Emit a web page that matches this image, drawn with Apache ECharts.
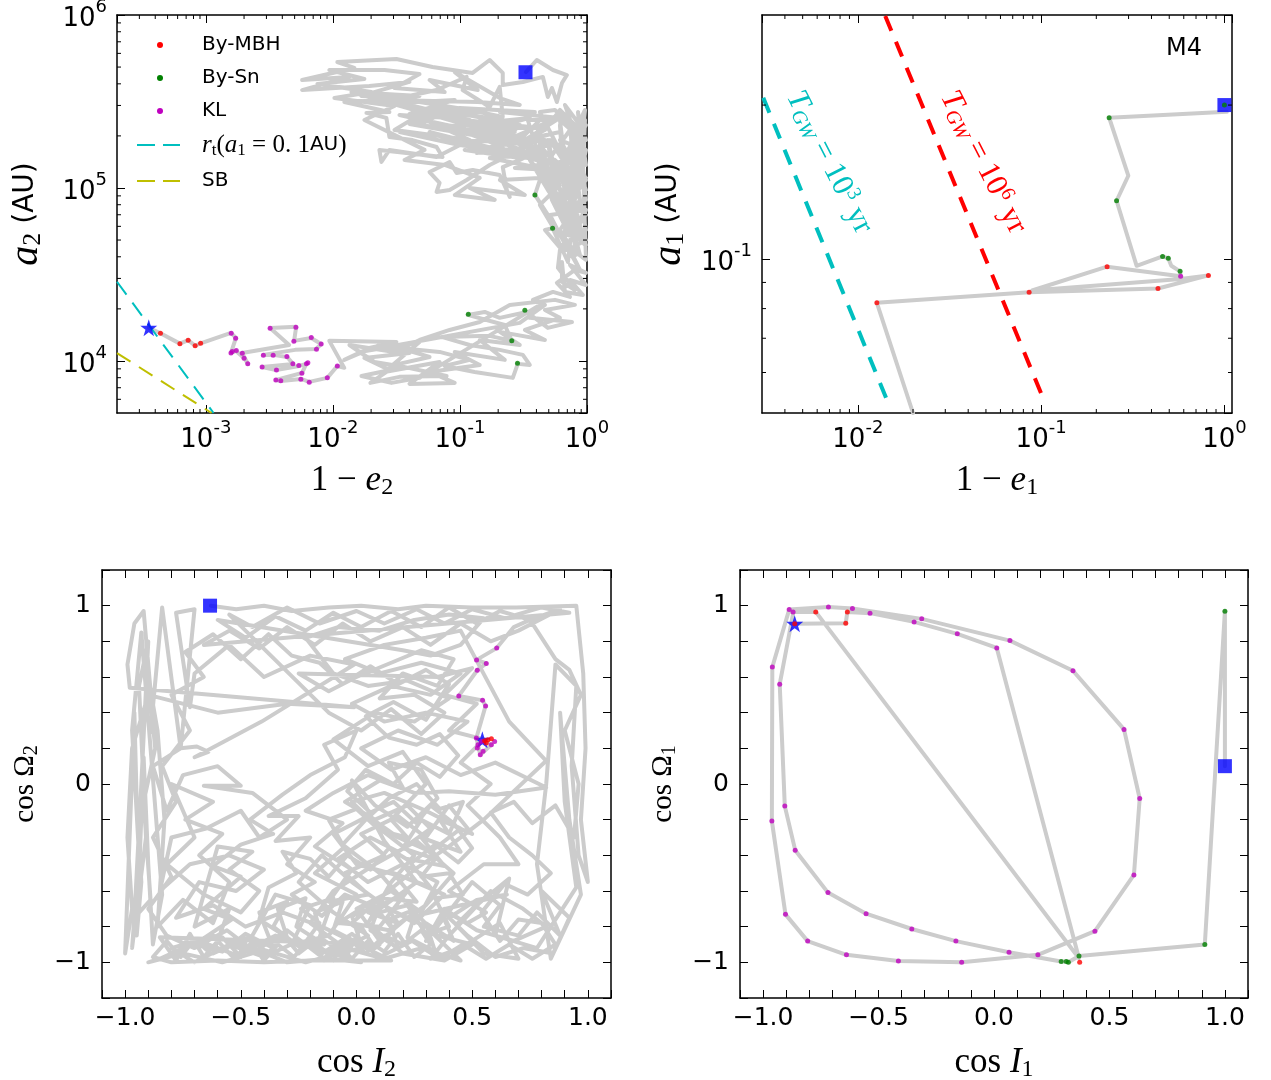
<!DOCTYPE html>
<html>
<head>
<meta charset="utf-8">
<script src="https://cdn.jsdelivr.net/npm/echarts@6/dist/echarts.min.js"></script>
<style>
html, body { margin: 0; padding: 0; background: #ffffff; }
#chart { width: 1271px; height: 1080px; }
</style>
</head>
<body>
<div id="chart"></div>
<script>
// ---------- outer orbit: [log10(1 - e2), log10(a2 / AU)] ----------
const outerTrackLog = [
  [-0.481,5.670],[-0.395,5.740],[-0.268,5.682],[-0.158,5.653],[-0.197,5.607],[-0.237,5.497],[-0.276,5.578],[-0.308,5.526],[-0.347,5.642],[-0.505,5.613],
  [-0.663,5.595],[-0.663,5.665],[-0.766,5.740],[-0.900,5.665],[-1.216,5.699],[-1.500,5.746],[-1.965,5.728],[-1.831,5.694],[-2.242,5.624],[-1.871,5.642],
  [-2.242,5.566],[-1.713,5.590],[-1.397,5.613],[-1.776,5.532],[-1.476,5.520],[-1.184,5.566],[-1.058,5.607],[-0.947,5.642],[-0.979,5.566],[-0.766,5.468],
  [-0.687,5.584],[-0.663,5.410],[-0.923,5.451],[-1.318,5.497],[-1.594,5.509],[-1.910,5.497],[-1.555,5.439],[-1.736,5.434],[-1.579,5.405],[-1.555,5.295],
  [-1.373,5.277],[-1.184,5.237],[-1.137,5.179],[-1.634,5.220],[-1.618,5.150],[-1.555,5.220],[-1.184,5.179],[-0.923,5.277],[-1.239,5.382],[-1.476,5.422],
  [-1.081,5.405],[-0.687,5.347],[-0.845,5.306],[-0.505,5.295],[-0.347,5.410],[-0.237,5.405],[-0.450,5.335],[-0.868,5.202],[-0.663,5.237],[-1.002,5.335],
  [-1.318,5.364],[-1.121,5.439],[-0.766,5.405],[-0.529,5.364],[-0.647,5.277],[-0.371,5.220],[-0.529,5.162],[-0.663,5.121],[-0.631,4.988],[-0.608,4.948],
  [-0.687,5.075],[-0.900,5.104],[-1.026,5.087],[-1.081,5.150],[-1.239,5.092],[-1.160,5.029],[-1.184,4.977],[-1.081,4.988],[-0.947,5.046],[-0.766,5.133],
  [-0.529,5.220],
  [-1.002,5.393],[-1.397,5.462],[-1.160,5.347],[-0.647,5.306],[-0.845,5.405],[-0.450,5.249],[-0.923,5.335],[-1.358,5.405],[-1.515,5.335],[-1.042,5.289],
  [-0.568,5.191],[-0.331,5.150],[-0.529,5.277],
  [-1.854,5.555],[-1.318,5.532],[-1.633,5.485],[-1.041,5.509],[-1.397,5.428],[-0.844,5.439],[-1.239,5.462],[-0.647,5.381],[-1.081,5.358],[-0.450,5.405],
  [-0.923,5.312],[-0.331,5.277],[-0.726,5.243],[-0.213,5.324],[-0.529,5.266],[-1.160,5.277],[-0.805,5.220],[-1.475,5.324],[-1.002,5.248],[-0.450,5.191],
  [-0.765,5.173],[-0.292,5.104],[-0.568,5.116],[-0.095,5.162],[-0.371,5.058],[-0.686,5.046],[-0.489,4.959],[-0.923,5.000],[-0.726,4.931],[-1.041,4.959],
  [-0.844,5.058],[-1.120,5.133],[-1.436,5.162],[-1.278,5.220],[-1.752,5.393],[-1.515,5.474],[-1.988,5.520],[-1.696,5.555],[-2.122,5.601],[-1.752,5.630],
  [-2.028,5.682],[-1.594,5.682],[-1.318,5.659],[-1.515,5.578],[-1.120,5.555],[-1.239,5.624],[-0.860,5.566],[-1.041,5.670],[-0.686,5.520],[-0.529,5.480],
  [-0.860,5.497],
  [-1.554,5.509],[-0.923,5.393],[-1.318,5.439],[-0.568,5.324],[-1.120,5.405],[-0.371,5.347],[-0.844,5.347],[-0.252,5.248],[-0.686,5.220],[-1.239,5.324],
  [-0.529,5.173],[-0.963,5.220],[-0.331,5.162],[-0.765,5.289],[-1.397,5.370],[-1.002,5.462],[-0.410,5.439],[-0.686,5.439],[-0.213,5.405],[-0.489,5.277],
  [-0.331,5.335],[-0.213,5.451],[-0.095,5.364],[-0.016,5.220],[-0.213,5.277],[-0.055,5.075],[-0.008,4.988],[-0.253,5.162],[-0.134,4.931],[-0.008,4.844],
  [-0.292,5.046],[-0.174,4.786],[-0.016,4.671],[-0.095,4.902],[-0.213,5.104],[-0.371,5.249],[-0.276,4.931],[-0.118,4.699],[-0.008,4.757],[-0.071,4.988],
  [-0.150,5.220],[-0.016,5.393],[-0.032,5.133],[-0.008,4.584],[-0.166,4.671],[-0.308,4.844],[-0.410,4.960],[-0.331,5.133],[-0.134,5.335],[-0.055,4.931],
  [-0.213,4.757],[-0.087,4.613],
  [-0.213,5.393],[-0.039,5.277],[-0.174,5.017],[-0.008,4.671],[-0.134,4.844],[-0.253,5.075],[-0.095,5.220],[-0.008,5.046],[-0.189,4.873],[-0.055,4.613],
  [-0.118,4.786],[-0.308,4.988],[-0.450,5.162],[-0.229,4.960],[-0.087,4.728],[-0.024,4.873],[-0.166,5.133],[-0.292,5.277],[-0.110,5.075],[-0.008,5.220],
  [-0.197,4.642],[-0.331,4.757],[-0.271,4.767],[-0.150,4.572],
  [-0.016,5.451],[-0.118,5.289],[-0.008,5.364],[-0.166,5.162],[-0.055,5.220],[-0.276,5.104],[-0.103,4.960],[-0.008,5.058],[-0.213,4.902],[-0.071,4.769],
  [-0.008,4.873],[-0.292,4.844],[-0.150,4.642],[-0.008,4.699],[-0.245,4.746],[-0.371,4.902],[-0.213,5.017],[-0.466,5.220],[-0.323,5.393],
  [-0.466,5.393],[-0.331,5.075],[-0.387,5.335],[-0.245,4.931],[-0.308,5.277],[-0.166,4.844],[-0.213,5.364],[-0.087,4.815],[-0.134,5.393],[-0.008,4.931],
  [-0.071,5.439],[-0.008,5.133],[-0.174,5.480],[-0.039,5.347],[-0.008,5.277],[-0.252,5.451],[-0.371,5.439],[-0.095,5.046],[-0.189,4.699],[-0.055,4.526],
  [-0.134,4.642],[-0.213,4.642],[-0.229,4.538],[-0.095,4.410],[-0.197,4.457],[-0.197,4.572],[-0.174,4.399],[-0.032,4.381],[-0.134,4.468],[-0.008,4.439],
  [-0.134,4.555],[-0.008,4.509],[-0.095,4.526],[-0.237,4.451],[-0.134,4.370],[-0.268,4.399],[-0.426,4.353],[-0.331,4.324],[-0.529,4.220],
  [-1.791,4.052],[-1.318,4.110],[-1.594,3.936],[-1.160,3.994],[-1.397,3.867],[-1.041,3.873],[-1.239,3.936],[-0.844,3.977],[-1.041,4.052],[-0.647,4.006],
  [-0.844,4.121],[-0.529,4.092],[-0.686,4.168],[-0.331,4.121],[-0.489,4.179],[-0.213,4.249],[-0.331,4.295],[-0.095,4.324],[-0.252,4.353],[-0.608,4.324],
  [-0.844,4.225],[-1.081,4.179],[-1.318,4.121],[-1.515,4.052],[-1.870,4.092],[-1.673,3.994],[-1.436,3.965],[-1.775,3.913],[-1.539,3.873],[-1.318,3.902],
  [-0.371,4.324],[-0.450,4.249],[-0.118,4.225],[-0.308,4.191],[-0.474,4.283],[-0.687,4.249],[-0.805,4.283],[-0.939,4.266],[-0.647,4.208],[-0.592,4.116],
  [-0.766,4.145],[-1.144,4.139],[-0.923,4.092],[-0.687,4.064],[-0.505,4.035],[-0.450,3.977],[-0.545,3.983],[-0.584,3.902],[-0.884,3.936],[-1.121,3.971],
  [-0.923,4.006],[-1.160,4.052],[-1.476,4.075],[-1.239,4.023],[-1.515,3.977],[-1.105,3.913],[-1.476,3.908],[-1.705,3.873],[-1.555,3.948],[-1.752,4.017],
  [-1.397,4.046],[-1.634,4.092],[-1.910,4.006],[-1.713,4.075],[-1.500,4.110],[-2.028,4.116],[-1.910,3.960],
  [-1.965,3.971],[-2.044,3.902],[-2.186,3.879],[-2.250,3.896],[-2.407,3.884],[-2.447,3.890],[-2.242,3.931],[-2.210,3.983],[-2.265,3.971],[-2.447,3.948],
  [-2.557,3.965],[-2.313,3.983],[-2.360,4.023],[-2.470,4.035],[-2.549,4.035],[-2.297,4.064],[-2.131,4.069],[-2.092,4.098],[-2.171,4.133],[-2.305,4.116],
  [-2.289,4.197],[-2.494,4.191],[-2.344,4.092],[-2.715,4.046],[-2.668,3.983],[-2.699,4.017],[-2.763,4.058],[-2.802,4.046],[-2.763,4.133],[-2.802,4.162],
  [-3.041,4.102],[-3.084,4.088],[-3.139,4.120],[-3.204,4.100],[-3.357,4.160],[-3.449,4.192]
];
const outerMBHLog = [[-3.357,4.160],[-3.204,4.100],[-3.139,4.120],[-3.084,4.088],[-3.041,4.102]];
const outerSnLog = [[-0.410,4.960],[-0.271,4.767],[-0.934,4.270],[-0.489,4.293],[-0.592,4.116],[-0.547,3.987]];
const outerKLLog = [
  [-2.800,4.160],[-2.765,4.131],[-2.792,4.054],[-2.802,4.046],[-2.760,4.060],[-2.713,4.045],[-2.699,4.016],[-2.670,3.984],[-2.547,4.033],[-2.557,3.965],
  [-2.494,4.189],[-2.470,4.033],[-2.444,3.948],[-2.449,3.890],[-2.410,3.886],[-2.362,4.025],[-2.307,4.114],[-2.315,3.983],[-2.291,4.195],[-2.268,3.973],
  [-2.244,3.929],[-2.208,3.983],[-2.197,3.990],[-2.252,3.894],[-2.186,3.877],[-2.170,4.135],[-2.129,4.068],[-2.092,4.098],[-2.044,3.903],[-1.965,3.971]
];
const outerStartLog = [[-0.484,5.669]];
const outerEndLog = [[-3.449,4.192]];
// tidal radius for a1 = 0.1 AU and stability boundary: [1 - e2, a2]
const tidalLine = [[2.0e-4,28700],[1.15e-3,5000]];
const sbLine = [[2.0e-4,11100],[1.11e-3,5000]];

// ---------- inner orbit: [1 - e1, a1 (AU)] ----------
const innerTrack = [
  [1.03,0.194],[0.235,0.189],[0.299,0.1455],[0.258,0.130],[0.332,0.097],[0.460,0.1012],[0.494,0.1003],[0.513,0.097],[0.573,0.0946],[0.577,0.0925],
  [0.229,0.0966],[0.0893,0.0868],[0.577,0.0914],[0.818,0.0929],[0.434,0.0876],[0.086,0.0861],[0.0127,0.0821],[0.020,0.050]
];
const innerMBH = [[0.818,0.0929],[0.434,0.0876],[0.086,0.0861],[0.229,0.0966],[0.0127,0.0821]];
const innerSn = [[1.0,0.2],[0.235,0.189],[0.258,0.130],[0.460,0.1012],[0.494,0.1003],[0.573,0.0946]];
const innerKL = [[0.577,0.0925]];
const innerStart = [[1.0,0.2]];
// gravitational-wave merger time contours
const tgw3Line = [[0.00305,0.2066],[0.01471,0.0521]];
const tgw6Line = [[0.01411,0.2988],[0.1056,0.0521]];
const tgw3LabelAt = [[0.00698,0.1546]];
const tgw6LabelAt = [[0.0483,0.1546]];

// ---------- orientation of the outer orbit: [cos I2, cos Omega2] ----------
const outerAngles = [
  [-0.63,1.00],[-0.52,0.98],[-0.40,1.00],[-0.28,0.97],[-0.12,0.99],[0.02,1.00],[0.18,0.98],[0.30,1.00],[0.50,0.99],[0.69,0.99],[0.95,1.00],
  [0.98,0.62],[0.99,0.20],[0.97,-0.20],[1.00,-0.55],[0.96,-0.40],[0.93,0.10],[0.95,0.55],[0.86,0.67],[0.82,0.00],[0.78,-0.45],[0.84,-0.98],[0.97,-0.62],[0.92,-0.20],[0.88,0.40],[0.90,-0.10],[0.95,-0.58],
  [0.78,-0.92],[0.60,-0.85],[0.66,-0.53],[0.50,-0.70],[0.43,-0.79],[0.55,-0.95],[0.70,-0.98],[0.62,-0.78],[0.45,-0.92],[0.32,-0.98],[0.40,-0.85],[0.58,-0.60],[0.72,-0.70],[0.82,-0.80],[0.68,-0.88],[0.52,-0.82],[0.38,-0.70],[0.30,-0.88],
  [0.50,-0.55],[0.62,-0.68],[0.55,-0.80],[0.70,-0.85],[0.78,-0.72],[0.88,-0.85],[0.80,-0.60],[0.92,-0.75],[0.85,-0.95],[0.72,-0.92],[0.60,-0.97],[0.48,-0.85],[0.40,-0.75],[0.52,-0.65],[0.65,-0.62],
  [0.22,-0.75],[0.10,-0.88],[0.00,-0.70],[0.15,-0.60],[0.28,-0.72],[0.35,-0.55],[0.20,-0.45],[0.05,-0.55],[-0.08,-0.42],[0.06,-0.30],[0.18,-0.38],[0.32,-0.25],[0.22,-0.12],[0.08,-0.20],[-0.05,-0.10],[0.10,0.02],[0.25,-0.05],[0.40,-0.04],[0.60,-0.06],[0.82,-0.02],
  [0.60,0.12],[0.45,0.05],[0.30,0.15],[0.15,0.08],[0.02,0.20],[0.18,0.30],[0.35,0.22],[0.48,0.35],[0.30,0.40],[0.12,0.35],[-0.02,0.45],[0.15,0.55],[0.32,0.50],[0.45,0.62],[0.28,0.68],[0.10,0.62],[-0.05,0.70],[0.12,0.78],[0.30,0.82],[0.45,0.86],[0.66,0.35],[0.82,0.13],
  [0.55,-0.20],[0.40,-0.35],[0.25,-0.48],[0.12,-0.62],[-0.02,-0.78],[0.14,-0.82],[0.30,-0.68],[0.42,-0.50],[0.26,-0.32],[0.08,-0.45],[-0.10,-0.60],[-0.20,-0.78],[-0.05,-0.92],[0.12,-0.98],[0.28,-0.92],[0.45,-0.99],[0.30,-0.80],[0.14,-0.70],[-0.02,-0.55],[-0.15,-0.40],[-0.25,-0.55],[-0.10,-0.72],[0.05,-0.85],
  [-0.10,-0.95],[-0.25,-0.88],[-0.40,-0.97],[-0.55,-0.90],[-0.70,-1.00],[-0.80,-0.92],[-0.62,-0.85],[-0.45,-0.92],[-0.30,-1.00],[-0.12,-0.98],[0.02,-1.00],[-0.18,-0.92],[-0.35,-0.85],[-0.52,-0.96],[-0.68,-0.88],[-0.85,-0.98],[-0.90,-1.00],[-0.75,-0.95],[-0.58,-1.00],[-0.40,-0.93],[-0.22,-1.00],[-0.05,-0.94],[0.10,-0.90],
  [-0.85,-0.86],[-0.78,-0.99],[-0.72,-0.84],[-0.66,-0.97],[-0.60,-0.88],[-0.52,-0.99],[-0.47,-0.86],[-0.40,-0.99],[-0.34,-0.90],[-0.27,-0.97],[-0.20,-0.86],[-0.14,-0.99],[-0.08,-0.90],[-0.02,-0.98],[0.05,-0.88],[0.12,-0.94],[0.18,-0.84],[0.25,-0.97],[0.32,-0.90],[0.28,-0.82],[0.20,-0.90],[0.12,-0.85],
  [0.04,-0.95],[-0.04,-0.86],[-0.10,-0.99],[-0.18,-0.88],[-0.25,-0.95],[-0.32,-0.84],[-0.38,-0.95],[-0.45,-0.88],[-0.50,-0.97],[-0.58,-0.86],[-0.64,-0.94],[-0.70,-0.87],[-0.76,-0.97],[-0.82,-0.88],[-0.88,-0.97],[-0.80,-1.00],[-0.60,-0.99],[-0.40,-1.00],[-0.20,-0.99],[0.00,-0.99],[0.15,-0.99],
  [-0.15,-0.80],[-0.32,-0.72],[-0.48,-0.80],[-0.62,-0.68],[-0.78,-0.75],[-0.68,-0.55],[-0.52,-0.60],[-0.40,-0.48],[-0.55,-0.40],[-0.72,-0.45],[-0.85,-0.60],[-0.80,-0.30],[-0.65,-0.25],[-0.50,-0.15],[-0.42,-0.30],[-0.30,-0.20],[-0.45,-0.05],[-0.66,-0.01],[-0.50,-0.01],
  [-0.60,0.10],[-0.75,0.05],[-0.82,-0.15],[-0.88,0.10],[-0.76,0.20],[-0.69,0.21],[-0.64,0.18],[-0.70,0.15],[-0.41,0.35],[-0.01,0.67],
  [-0.20,0.72],[-0.40,0.60],[-0.55,0.78],[-0.70,0.62],[-0.72,0.43],[-0.78,0.96],[-0.70,0.98],[-0.76,0.20],[-0.84,0.99],[-0.89,0.29],[-0.88,0.37],[-0.92,0.97],[-0.96,0.90],
  [-0.99,0.67],[-0.98,0.54],[-0.01,0.43],[-0.30,0.45],[-0.60,0.40],[-0.90,0.50],[-0.97,0.20],[-0.99,-0.30],[-0.97,-0.70],[-1.00,-0.95],[-0.96,0.40],[-0.95,-0.10],[-0.93,-0.55],[-0.95,-0.85],[-0.92,0.15],[-0.90,-0.45],[-0.88,-0.90],[-0.84,-0.62],
  [-0.93,0.85],[-0.97,0.30],[-0.94,-0.40],[-0.97,-0.92],[-0.91,-0.30],[-0.94,0.55],[-0.90,0.80],[-0.93,0.00],[-0.96,-0.75],[-0.89,-0.65],[-0.92,-0.10],[-0.87,0.20],[-0.90,0.60],[-0.86,0.30],[-0.83,-0.20],[-0.86,-0.80],
  [-0.75,-0.65],[-0.62,-0.78],[-0.55,-0.55],[-0.68,-0.40],[-0.58,-0.28],[-0.74,-0.20],[-0.62,-0.10],[-0.80,0.00],[-0.70,-0.30],[-0.82,-0.45],[-0.66,-0.62],[-0.50,-0.72],[-0.42,-0.60],[-0.55,-0.48],[-0.45,-0.38],[-0.60,-0.35],
  [-0.70,-0.80],[-0.55,-0.70],[-0.62,-0.95],[-0.45,-0.85],[-0.35,-0.62],[-0.20,-0.68],[-0.28,-0.90],[-0.12,-0.85],[0.00,-0.62],[-0.18,-0.50],[-0.05,-0.35],[0.10,-0.50],[0.20,-0.65],[0.35,-0.85],[0.50,-0.90],[0.38,-0.99],[0.20,-0.95],[0.05,-0.78],
  [0.15,-0.55],[0.25,-0.40],[0.10,-0.25],[-0.02,-0.10],[0.12,-0.05],[0.30,-0.15],[0.45,-0.25],[0.32,-0.38],[0.18,-0.30],[0.05,-0.18],[-0.10,-0.28],[0.00,-0.45],[0.20,-0.52],[0.38,-0.62],[0.25,-0.78],[0.08,-0.65],[-0.08,-0.78],[0.10,-0.80],[0.22,-0.60],
  [0.05,-0.72],[0.18,-0.78],[0.10,-0.64],[0.26,-0.66],[0.16,-0.50],[0.32,-0.58],[0.22,-0.42],[0.38,-0.46],[0.28,-0.30],[0.45,-0.38],[0.36,-0.20],[0.50,-0.28],[0.40,-0.12],[0.30,-0.30],[0.18,-0.18],[0.02,-0.28],[0.12,-0.40],[-0.05,-0.50],[0.05,-0.62],[-0.12,-0.66],
  [-0.02,-0.48],[-0.18,-0.35],[-0.06,-0.22],[-0.22,-0.15],[-0.10,-0.05],[0.05,0.05],[0.20,-0.02],[0.14,0.12],[0.28,0.08],[0.35,-0.08],[0.22,-0.24],[0.08,-0.12],[-0.02,0.02],[0.12,-0.32],[0.26,-0.55],[0.10,-0.70],[-0.05,-0.62],[-0.15,-0.74],[-0.28,-0.62],[-0.18,-0.55],
  [-0.30,-0.45],[-0.20,-0.30],[-0.35,-0.32],[-0.25,-0.18],[-0.38,-0.18],[-0.22,-0.08],[-0.08,0.08],[-0.14,0.22],[0.00,0.30],[-0.05,0.15],
  [-0.20,0.05],[-0.32,-0.06],[-0.46,-0.20],[-0.36,-0.28],[-0.50,-0.34],[-0.62,-0.46],[-0.50,-0.52],[-0.66,-0.70],[-0.54,-0.76],[-0.70,-0.90],[-0.58,-0.94],[-0.48,-0.84],[-0.36,-0.92],[-0.42,-0.72],[-0.30,-0.66],[-0.36,-0.80],
  [-0.24,-0.92],[-0.16,-0.78],[-0.24,-0.70],[-0.10,-0.64],[-0.16,-0.86],[-0.04,-0.96],[0.02,-0.80],[0.08,-0.92],[0.16,-0.82],[0.10,-0.72],[0.22,-0.68],[0.30,-0.84],[0.40,-0.80],[0.34,-0.64],[0.46,-0.62],[0.40,-0.50],
  [0.28,-0.52],[0.34,-0.42],[0.20,-0.36],[0.28,-0.20],[0.40,-0.28],[0.46,-0.10],[0.36,-0.14],[0.26,0.00],[0.14,-0.08],[0.04,-0.20],[-0.06,-0.34],[-0.12,-0.20],[0.00,-0.14],[0.10,-0.26],[0.22,-0.30],
  [0.15,-0.20],[0.30,0.00],[0.20,0.18],[0.05,0.10],[-0.10,0.25],[0.08,0.40],[0.25,0.35],[0.40,0.48],[0.22,0.58],[0.05,0.55],[-0.10,0.62],[-0.22,0.82],[-0.08,0.88],[0.10,0.86],[0.25,0.92],[0.40,0.95],[0.55,0.93],[0.45,0.78],[0.32,0.72],[0.20,0.75],
  [-0.60,0.92],[-0.48,0.82],[-0.35,0.94],[-0.22,0.86],[-0.10,0.96],[0.02,0.88],[0.15,0.97],[0.28,0.88],[0.40,0.99],[0.52,0.90],[0.62,0.97],[0.75,0.92],[0.88,0.98],
  [0.70,0.86],[0.58,0.80],[0.45,0.90],[0.32,0.78],[0.20,0.88],[0.06,0.80],[-0.06,0.90],[-0.18,0.78],[-0.30,0.88],[-0.42,0.76],[-0.55,0.86],[-0.66,0.78],
  [0.92,0.96],[0.80,0.99],[0.64,0.93],[0.50,0.98],[0.38,0.90],[0.26,0.98],[0.12,0.90],[0.00,0.97],[-0.16,0.90],[-0.30,0.99],[-0.45,0.88],[-0.55,0.95],
  [-0.12,0.40],[0.02,0.30],[0.15,0.42],[0.28,0.28],[0.38,0.40],[0.25,0.50],[0.10,0.48],[0.20,0.62],[0.35,0.55],[0.42,0.70],[0.28,0.75],[0.15,0.68],[0.00,0.60],[-0.12,0.52],[-0.25,0.62],
  [0.35,0.60],[0.50,0.65],[0.38,0.50],[0.52,0.45],[0.40,0.30],[0.55,0.25],[0.45,0.12],[0.58,0.00],[0.48,-0.12],[0.62,-0.30],[0.70,-0.45],[0.55,-0.45],[0.40,-0.60],[0.56,-0.72],
  [0.48,-0.78],[0.36,-0.70],[0.42,-0.88],[0.30,-0.78],[0.34,-0.94],[0.22,-0.86],[0.26,-0.70],[0.14,-0.76],[0.18,-0.92],[0.06,-0.82],[0.10,-0.68],[-0.02,-0.74],[0.02,-0.90],[-0.10,-0.82],[-0.06,-0.66],[-0.18,-0.72],[-0.14,-0.90],[-0.26,-0.80],[-0.22,-0.64],[-0.34,-0.70],
  [-0.30,-0.86],[-0.42,-0.76],[-0.38,-0.58],[-0.26,-0.50],[-0.32,-0.38],[-0.20,-0.42],[-0.12,-0.52],[-0.04,-0.40],[0.06,-0.48],[0.14,-0.36],[0.24,-0.44],[0.34,-0.34],[0.44,-0.44],[0.50,-0.36],[0.42,-0.22],[0.32,-0.12],[0.26,-0.22],[0.16,-0.10],[0.06,-0.16],[-0.04,-0.04],
  [0.04,0.08],[0.16,0.00],[0.26,0.12],[0.36,0.04],[0.44,0.16],[0.36,0.28],[0.26,0.22],[0.14,0.26],[0.04,0.38],[0.16,0.46],[0.30,0.36],[0.40,0.56],[0.30,0.64],[0.18,0.56],[0.06,0.66],[-0.06,0.56],[-0.16,0.68],[-0.28,0.72],[-0.38,0.84],[-0.50,0.70],
  [-0.62,0.84],[-0.74,0.74],[-0.66,0.60],[-0.80,0.50],[-0.72,0.30],[-0.84,0.10],[-0.78,-0.10],[-0.88,-0.30],[-0.80,-0.52],[-0.90,-0.70],[-0.82,-0.85],[-0.70,-0.92],[-0.56,-0.82],[-0.44,-0.94],[-0.30,-0.82],[-0.16,-0.96],[-0.02,-0.84],[0.10,-0.97],[0.24,-0.88],[0.36,-0.98],
  [0.46,-0.90],[0.56,-0.98],[0.66,-0.90],[0.76,-0.98],[0.86,-0.90],[0.80,-0.78],[0.70,-0.76],[0.62,-0.88],[0.54,-0.72],[0.64,-0.56],[0.74,-0.62],[0.84,-0.50],[0.76,-0.40],[0.66,-0.30],[0.58,-0.16],[0.68,-0.10],[0.76,-0.22],[0.86,-0.12],[0.94,-0.30],[0.96,0.00],
  [0.90,0.30],[0.97,0.50],[0.92,0.64],[0.86,0.70],[0.75,0.92],
  [0.68,0.88],[0.606,0.762],[0.519,0.696],[0.561,0.676],[0.522,0.638],[0.442,0.494],[0.545,0.469],[0.558,0.438],[0.518,0.258],[0.535,0.164],[0.583,0.220],[0.544,0.248]
];
const outerAngMBH = [[0.554,0.243],[0.568,0.248],[0.583,0.254],[0.561,0.230]];
const outerAngKL = [
  [0.606,0.762],[0.519,0.696],[0.561,0.676],[0.522,0.638],[0.442,0.494],[0.545,0.469],[0.558,0.438],[0.518,0.258],
  [0.525,0.220],[0.522,0.202],[0.535,0.164],[0.547,0.183],[0.583,0.220],[0.597,0.239],[0.540,0.239]
];
const outerAngStart = [[-0.633,1.0]];
const outerAngEnd = [[0.544,0.248]];

// ---------- orientation of the inner orbit: [cos I1, cos Omega1] ----------
const innerAngles = [
  [1.00,0.10],[1.00,0.969],[0.913,-0.900],[0.368,-0.965],[0.322,-1.000],[0.313,-0.995],[0.291,-0.995],
  [0.065,-0.943],[-0.165,-0.881],[-0.356,-0.813],[-0.554,-0.727],[-0.719,-0.609],[-0.861,-0.371],[-0.906,-0.124],[-0.928,0.560],[-0.870,0.955],
  [-0.887,0.978],[-0.960,0.656],[-0.962,-0.208],[-0.903,-0.731],[-0.807,-0.881],[-0.639,-0.958],[-0.414,-0.993],[-0.140,-1.000],[0.190,-0.958],
  [0.437,-0.825],[0.606,-0.510],[0.631,-0.081],[0.563,0.306],[0.342,0.635],[0.069,0.804],[-0.313,0.926],[-0.613,0.984],[-0.717,0.993],[-0.887,0.978],
  [-0.870,0.965],[-0.772,0.965],[0.368,-0.977],[0.012,0.763],[-0.159,0.842],[-0.346,0.909],[-0.537,0.958],[-0.635,0.965],[-0.642,0.902],[-0.863,0.898]
];
const innerAngMBH = [[-0.772,0.965],[-0.635,0.965],[-0.642,0.902],[-0.863,0.898],[0.371,-1.000]];
const innerAngSn = [[1.00,0.969],[0.913,-0.900],[0.368,-0.965],[0.322,-1.000],[0.313,-0.995],[0.291,-0.995]];
const innerAngKL = [
  [-0.887,0.978],[-0.870,0.965],[-0.717,0.993],[-0.613,0.984],[-0.537,0.958],[-0.346,0.909],[-0.313,0.926],[-0.159,0.842],[0.012,0.763],[0.069,0.804],
  [0.342,0.635],[0.563,0.306],[0.631,-0.081],[0.606,-0.510],[0.437,-0.825],[0.190,-0.958],[0.065,-0.943],[-0.140,-1.000],[-0.165,-0.881],[-0.356,-0.813],
  [-0.414,-0.993],[-0.554,-0.727],[-0.639,-0.958],[-0.719,-0.609],[-0.807,-0.881],[-0.861,-0.371],[-0.903,-0.731],[-0.906,-0.124],[-0.962,-0.208],[-0.928,0.560],
  [-0.960,0.656]
];
const innerAngStart = [[1.0,0.1]];
const innerAngEnd = [[-0.863,0.898]];

// ---------- tick labels and legend entries ----------
const linTickLabelsX = ['−1.0','−0.5','0.0','0.5','1.0'];
const linTickLabelsY = ['−1','0','1'];
const legendDots = ['By-MBH','By-Sn','KL'];

// ---------- styling ----------
const SANS = 'DejaVu Sans';
const SERIF = 'Liberation Serif';
const C = { mbh:'#ff0000', sn:'#008000', kl:'#bf00bf', cyan:'#00bfbf', yellow:'#bfbf00', blue:'#0000ff', track:'#cccccc' };
const STAR = 'path://M12,0.5 L14.7,8.6 L23.3,8.6 L16.4,13.7 L19,21.8 L12,16.8 L5,21.8 L7.6,13.7 L0.7,8.6 L9.3,8.6 Z';
const fromLog = arr => arr.map(p => [Math.pow(10, p[0]), Math.pow(10, p[1])]);

const frame = { show: true, onZero: false, lineStyle: { color: '#000', width: 1.5 } };
const tick = { show: true, inside: true, length: 8, lineStyle: { color: '#000', width: 1 } };

const logRich = {
  b: { fontFamily: SANS, fontSize: 26, lineHeight: 34, verticalAlign: 'bottom', color: '#000' },
  s: { fontFamily: SANS, fontSize: 18, lineHeight: 12, verticalAlign: 'top', color: '#000' }
};
const logFmt = v => '{b|10}{s|' + Math.round(Math.log10(v)) + '}';

// axis titles
const richX = {
  r: { fontFamily: SERIF, fontSize: 35, lineHeight: 38, color: '#000' },
  i: { fontFamily: SERIF, fontStyle: 'italic', fontSize: 35, lineHeight: 38, color: '#000' },
  sub: { fontFamily: SERIF, fontSize: 24, lineHeight: 14, verticalAlign: 'bottom', color: '#000' }
};
const richA = {
  i: { fontFamily: SERIF, fontStyle: 'italic', fontSize: 40, lineHeight: 40, color: '#000' },
  sub: { fontFamily: SERIF, fontSize: 26, lineHeight: 16, verticalAlign: 'bottom', color: '#000' },
  s: { fontFamily: SANS, fontSize: 28, lineHeight: 40, color: '#000' }
};
const richCos = {
  r: { fontFamily: SERIF, fontSize: 29, lineHeight: 34, color: '#000' },
  sub: { fontFamily: SERIF, fontSize: 20, lineHeight: 14, verticalAlign: 'bottom', color: '#000' }
};

function logAxisPair(grid, min, max, name, gap, isX, hideMax, rich) {
  const main = {
    type: 'log', logBase: 10, gridIndex: grid, min, max,
    position: isX ? 'bottom' : 'left',
    axisLine: frame, axisTick: tick, splitLine: { show: false }, minorTick: { show: false },
    axisLabel: { formatter: logFmt, rich: logRich, margin: isX ? 6 : 10, showMinLabel: false, showMaxLabel: !hideMax },
    name, nameLocation: 'middle', nameGap: gap, nameTextStyle: { rich }
  };
  const mirror = {
    type: 'log', logBase: 10, gridIndex: grid, min, max,
    position: isX ? 'top' : 'right',
    axisLine: frame, axisTick: tick, splitLine: { show: false }, axisLabel: { show: false }
  };
  return [main, mirror];
}

function linAxisPair(grid, isX, name, gap, rich) {
  const min = isX ? -1.1 : -1.2, max = isX ? 1.1 : 1.2, interval = isX ? 0.1 : 0.2;
  const fmt = v => {
    if (isX) {
      const k = Math.round(v * 2);
      if (Math.abs(v * 2 - k) > 1e-6) return '';
      return linTickLabelsX[k + 2] || '';
    }
    const k = Math.round(v);
    if (Math.abs(v - k) > 1e-6) return '';
    return linTickLabelsY[k + 1] || '';
  };
  const main = {
    type: 'value', gridIndex: grid, min, max, interval,
    position: isX ? 'bottom' : 'left',
    axisLine: frame, axisTick: tick, splitLine: { show: false },
    axisLabel: { formatter: fmt, fontFamily: SANS, fontSize: 25, color: '#000', margin: isX ? 8 : 11 },
    name, nameLocation: 'middle', nameGap: gap, nameTextStyle: { rich }
  };
  const mirror = {
    type: 'value', gridIndex: grid, min, max, interval,
    position: isX ? 'top' : 'right',
    axisLine: frame, axisTick: tick, splitLine: { show: false }, axisLabel: { show: false }
  };
  return [main, mirror];
}

// minor ticks of the logarithmic axes (2..9 times each decade), on both sides of the frame
function minorLogValues(min, max) {
  const out = [];
  for (let d = Math.floor(Math.log10(min)) - 1; d <= Math.ceil(Math.log10(max)); d++) {
    for (let k = 2; k <= 9; k++) {
      const v = k * Math.pow(10, d);
      if (v > min * 1.0001 && v < max * 0.9999) out.push(v);
    }
  }
  return out;
}
function minorTicks(xIdx, yIdx, dim, values, other) {
  return {
    type: 'custom', xAxisIndex: xIdx, yAxisIndex: yIdx, silent: true, z: 10, clip: false,
    data: values.map(v => dim === 'x' ? [v, other] : [other, v]),
    renderItem: (params, api) => {
      const cs = params.coordSys;
      const p = api.coord([api.value(0), api.value(1)]);
      const st = { stroke: '#000', lineWidth: 1 };
      if (dim === 'x') {
        return { type: 'group', children: [
          { type: 'line', shape: { x1: p[0], y1: cs.y + cs.height, x2: p[0], y2: cs.y + cs.height - 4 }, style: st },
          { type: 'line', shape: { x1: p[0], y1: cs.y, x2: p[0], y2: cs.y + 4 }, style: st }
        ] };
      }
      return { type: 'group', children: [
        { type: 'line', shape: { x1: cs.x, y1: p[1], x2: cs.x + 4, y2: p[1] }, style: st },
        { type: 'line', shape: { x1: cs.x + cs.width, y1: p[1], x2: cs.x + cs.width - 4, y2: p[1] }, style: st }
      ] };
    }
  };
}

const track = (x, y, data) => ({
  type: 'line', xAxisIndex: x, yAxisIndex: y, data, symbol: 'none', showSymbol: false, silent: true, z: 2,
  lineStyle: { color: C.track, width: 4, join: 'round', cap: 'round' }
});
const dots = (name, color, x, y, data) => ({
  type: 'scatter', name, xAxisIndex: x, yAxisIndex: y, data, symbol: 'circle', symbolSize: 5, silent: true, z: 6,
  itemStyle: { color }
});
const marker = (symbol, size, x, y, data) => ({
  type: 'scatter', xAxisIndex: x, yAxisIndex: y, data, symbol, symbolSize: size, silent: true, z: 5,
  itemStyle: { color: C.blue }
});
const dashed = (name, color, width, dash, x, y, data) => ({
  type: 'line', name, xAxisIndex: x, yAxisIndex: y, data, symbol: 'none', showSymbol: false, silent: true, z: 3,
  lineStyle: { color, width, type: dash }
});
const tgwLabel = (color, power, data) => ({
  type: 'scatter', xAxisIndex: 2, yAxisIndex: 2, data, symbolSize: 0, silent: true, z: 7,
  itemStyle: { color: 'transparent' },
  label: {
    show: true, position: 'inside', rotate: -63, opacity: 1,
    formatter: '{t|T}{g|GW}{r| = 10}{p|' + power + '}{r| yr}',
    rich: {
      t: { fontFamily: SERIF, fontStyle: 'italic', fontSize: 31, lineHeight: 34, color },
      g: { fontFamily: SERIF, fontStyle: 'italic', fontSize: 20, lineHeight: 12, verticalAlign: 'bottom', color },
      r: { fontFamily: SERIF, fontSize: 31, lineHeight: 34, color },
      p: { fontFamily: SERIF, fontSize: 20, lineHeight: 12, verticalAlign: 'top', color }
    }
  }
});

const TL = { xMin: 2e-4, xMax: 1, yMin: 5e3, yMax: 1e6 };
const TR = { xMin: 3e-3, xMax: 1.1, yMin: 0.05, yMax: 0.3 };

const [tlx, tlx2] = logAxisPair(0, TL.xMin, TL.xMax, '{r|1 − }{i|e}{sub|2}', 49, true, false, richX);
const [tly, tly2] = logAxisPair(0, TL.yMin, TL.yMax, '{i|a}{sub|2}{s| (AU)}', 71, false, false, richA);
const [trx, trx2] = logAxisPair(1, TR.xMin, TR.xMax, '{r|1 − }{i|e}{sub|1}', 49, true, true, richX);
const [try1, try2] = logAxisPair(1, TR.yMin, TR.yMax, '{i|a}{sub|1}{s| (AU)}', 73, false, true, richA);
const [blx, blx2] = linAxisPair(2, true, '{r|cos }{i|I}{sub|2}', 46, richX);
const [bly, bly2] = linAxisPair(2, false, '{r|cos Ω}{sub|2}', 60, richCos);
const [brx, brx2] = linAxisPair(3, true, '{r|cos }{i|I}{sub|1}', 46, richX);
const [bry, bry2] = linAxisPair(3, false, '{r|cos Ω}{sub|1}', 60, richCos);

// legend of the upper-left panel
const legendRich = {
  mi: { fontFamily: SERIF, fontStyle: 'italic', fontSize: 25, lineHeight: 28, fill: '#000' },
  mr: { fontFamily: SERIF, fontSize: 25, lineHeight: 28, fill: '#000' },
  sb: { fontFamily: SERIF, fontSize: 17, lineHeight: 10, verticalAlign: 'bottom', fill: '#000' },
  ms: { fontFamily: SANS, fontSize: 20, lineHeight: 28, fill: '#000' }
};
const dotColors = [C.mbh, C.sn, C.kl];
const legendGraphics = [];
legendDots.forEach((name, i) => {
  const y = 45 + i * 33;
  legendGraphics.push({ type: 'circle', shape: { cx: 160, cy: y, r: 3 }, style: { fill: dotColors[i] }, silent: true });
  legendGraphics.push({ type: 'text', x: 202, y, style: { text: name, fontFamily: SANS, fontSize: 20, fill: '#000', verticalAlign: 'middle' }, silent: true });
});
[[C.cyan, '{mi|r}{sb|t}{mr|(}{mi|a}{sb|1}{mr| = 0. 1}{ms|AU}{mr|)}', 145], [C.yellow, '{ms|SB}', 181]].forEach(([col, txt, y]) => {
  legendGraphics.push({ type: 'line', shape: { x1: 137, y1: y, x2: 180, y2: y }, style: { stroke: col, lineWidth: 2, lineDash: [18, 8] }, silent: true });
  legendGraphics.push({ type: 'text', x: 202, y, style: { text: txt, rich: legendRich, verticalAlign: 'middle' }, silent: true });
});

const option = {
  animation: false,
  backgroundColor: '#ffffff',
  title: { text: 'M4', right: 64, top: 32, textStyle: { fontFamily: SANS, fontSize: 24, fontWeight: 'normal', color: '#000' } },
  grid: [
    { left: 117, top: 15, width: 470, height: 398, outerBoundsMode: 'none', containLabel: false },
    { left: 762, top: 15, width: 470, height: 398, outerBoundsMode: 'none', containLabel: false },
    { left: 102, top: 570, width: 509, height: 428, outerBoundsMode: 'none', containLabel: false },
    { left: 740, top: 570, width: 508, height: 428, outerBoundsMode: 'none', containLabel: false }
  ],
  graphic: legendGraphics,
  xAxis: [tlx, tlx2, trx, trx2, blx, blx2, brx, brx2],
  yAxis: [tly, tly2, try1, try2, bly, bly2, bry, bry2],
  series: [
    // semi-major axis vs eccentricity of the outer orbit
    track(0, 0, fromLog(outerTrackLog)),
    dashed('rt', C.cyan, 2, [16, 10], 0, 0, tidalLine),
    dashed('SB', C.yellow, 2, [16, 10], 0, 0, sbLine),
    marker('rect', 14, 0, 0, fromLog(outerStartLog)),
    marker(STAR, 17, 0, 0, fromLog(outerEndLog)),
    dots('By-MBH', C.mbh, 0, 0, fromLog(outerMBHLog)),
    dots('By-Sn', C.sn, 0, 0, fromLog(outerSnLog)),
    dots('KL', C.kl, 0, 0, fromLog(outerKLLog)),
    minorTicks(0, 0, 'x', minorLogValues(TL.xMin, TL.xMax), TL.yMin),
    minorTicks(0, 0, 'y', minorLogValues(TL.yMin, TL.yMax), TL.xMin),

    // semi-major axis vs eccentricity of the inner orbit
    track(2, 2, innerTrack),
    dashed('tgw3', C.cyan, 4, [16, 12], 2, 2, tgw3Line),
    dashed('tgw6', C.mbh, 4, [16, 12], 2, 2, tgw6Line),
    tgwLabel(C.cyan, 3, tgw3LabelAt),
    tgwLabel(C.mbh, 6, tgw6LabelAt),
    marker('rect', 14, 2, 2, innerStart),
    dots('By-MBH', C.mbh, 2, 2, innerMBH),
    dots('By-Sn', C.sn, 2, 2, innerSn),
    dots('KL', C.kl, 2, 2, innerKL),
    minorTicks(2, 2, 'x', minorLogValues(TR.xMin, TR.xMax), TR.yMin),
    minorTicks(2, 2, 'y', minorLogValues(TR.yMin, TR.yMax), TR.xMin),

    // orientation of the outer orbit
    track(4, 4, outerAngles),
    marker('rect', 14, 4, 4, outerAngStart),
    marker(STAR, 17, 4, 4, outerAngEnd),
    dots('KL', C.kl, 4, 4, outerAngKL),
    dots('By-MBH', C.mbh, 4, 4, outerAngMBH),

    // orientation of the inner orbit
    track(6, 6, innerAngles),
    marker('rect', 14, 6, 6, innerAngStart),
    marker(STAR, 17, 6, 6, innerAngEnd),
    dots('KL', C.kl, 6, 6, innerAngKL),
    dots('By-Sn', C.sn, 6, 6, innerAngSn),
    dots('By-MBH', C.mbh, 6, 6, innerAngMBH)
  ]
};

const chart = echarts.init(document.getElementById('chart'), null, { renderer: 'canvas' });
chart.setOption(option);
</script>
</body>
</html>
